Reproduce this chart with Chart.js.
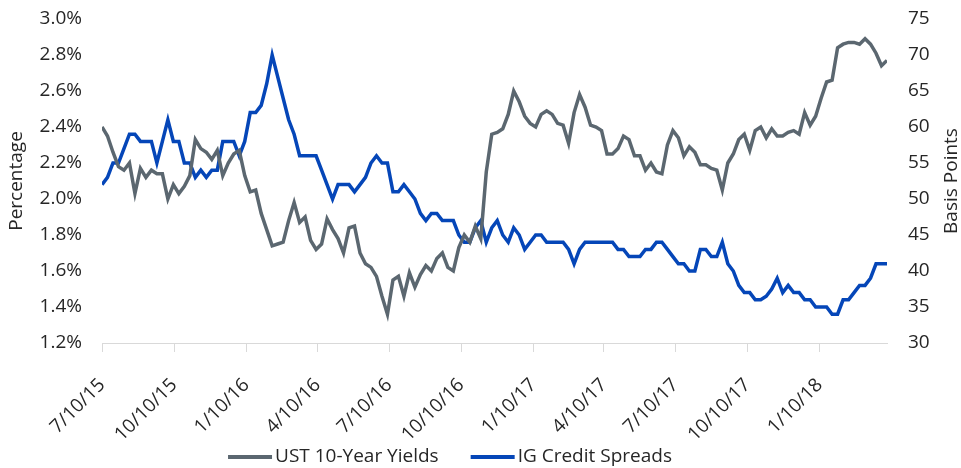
<!DOCTYPE html>
<html>
<head>
<meta charset="utf-8">
<script src="https://cdn.jsdelivr.net/npm/chart.js@4.4.1/dist/chart.umd.min.js"></script>
<style>
  html, body { margin: 0; padding: 0; background: #fff; }
  #wrap { width: 961px; height: 468px; }
</style>
</head>
<body>
<div id="wrap"><canvas id="yieldChart" width="961" height="468"></canvas></div>
<script>
// weekly observations starting 7/10/15
const startDate = '7/10/15';
const tickLabels = ['7/10/15', '10/10/15', '1/10/16', '4/10/16', '7/10/16', '10/10/16',
                    '1/10/17', '4/10/17', '7/10/17', '10/10/17', '1/10/18'];

const ustYields = [
  2.40, 2.35, 2.26, 2.18, 2.16, 2.20, 2.03, 2.17, 2.12, 2.16, 2.14, 2.14,
  2.00, 2.08, 2.03, 2.07, 2.13, 2.33, 2.28, 2.26, 2.22, 2.27, 2.13, 2.20,
  2.25, 2.27, 2.13, 2.04, 2.05, 1.92, 1.83, 1.74, 1.75, 1.76, 1.88, 1.98,
  1.87, 1.90, 1.77, 1.72, 1.75, 1.89, 1.83, 1.78, 1.70, 1.84, 1.85, 1.70,
  1.64, 1.62, 1.57, 1.46, 1.36, 1.55, 1.57, 1.46, 1.59, 1.51, 1.58, 1.63,
  1.60, 1.67, 1.70, 1.62, 1.60, 1.73, 1.80, 1.76, 1.85, 1.78, 2.15, 2.36,
  2.37, 2.39, 2.47, 2.60, 2.54, 2.46, 2.42, 2.40, 2.47, 2.49, 2.47, 2.42,
  2.41, 2.31, 2.48, 2.58, 2.51, 2.41, 2.40, 2.38, 2.25, 2.25, 2.28, 2.35,
  2.33, 2.24, 2.24, 2.16, 2.20, 2.15, 2.14, 2.30, 2.38, 2.34, 2.24, 2.29,
  2.26, 2.19, 2.19, 2.17, 2.16, 2.05, 2.20, 2.25, 2.33, 2.36, 2.27, 2.38,
  2.40, 2.34, 2.39, 2.35, 2.35, 2.37, 2.38, 2.36, 2.48, 2.41, 2.46, 2.56,
  2.65, 2.66, 2.84, 2.86, 2.87, 2.87, 2.86, 2.89, 2.86, 2.81, 2.74, 2.77
];

const igSpreads = [
  52, 53, 55, 55, 57, 59, 59, 58, 58, 58, 55, 58,
  61, 58, 58, 55, 55, 53, 54, 53, 54, 54, 58, 58,
  58, 56, 58, 62, 62, 63, 66, 70, 67, 64, 61, 59,
  56, 56, 56, 56, 54, 52, 50, 52, 52, 52, 51, 52,
  53, 55, 56, 55, 55, 51, 51, 52, 51, 50, 48, 47,
  48, 48, 47, 47, 47, 45, 44, 44, 46, 47, 44, 46,
  47, 45, 44, 46, 45, 43, 44, 45, 45, 44, 44, 44,
  44, 43, 41, 43, 44, 44, 44, 44, 44, 44, 43, 43,
  42, 42, 42, 43, 43, 44, 44, 43, 42, 41, 41, 40,
  40, 43, 43, 42, 42, 44, 41, 40, 38, 37, 37, 36,
  36, 36.5, 37.5, 39, 37, 38, 37, 37, 36, 36, 35, 35,
  35, 34, 34, 36, 36, 37, 38, 38, 39, 41, 41, 41
];

const textColor = '#262626';
const grayLine = '#5b6770';
const blueLine = '#0546b8';
const fontFamily = "'Open Sans', sans-serif";

function dayOffset(label) {
    const p = label.split('/');
    const s = startDate.split('/');
    const t = Date.UTC(2000 + Number(p[2]), Number(p[0]) - 1, Number(p[1]));
    const t0 = Date.UTC(2000 + Number(s[2]), Number(s[0]) - 1, Number(s[1]));
    return Math.round((t - t0) / 86400000);
}
const tickDays = tickLabels.map(dayOffset);

const ustPoints = ustYields.map((v, i) => ({ x: i * 7, y: v }));
const igPoints = igSpreads.map((v, i) => ({ x: i * 7, y: v }));
const lastDay = (ustYields.length - 1) * 7;

Chart.defaults.font.family = fontFamily;
Chart.defaults.font.size = 19;
Chart.defaults.color = textColor;

// right title (reads bottom to top) and the legend row
const extras = {
    id: 'extras',
    afterDraw(chart) {
        const ctx = chart.ctx;
        const area = chart.chartArea;
        ctx.save();
        ctx.font = '19px ' + fontFamily;
        ctx.fillStyle = textColor;
        ctx.textBaseline = 'middle';

        ctx.save();
        ctx.translate(952, (area.top + area.bottom) / 2);
        ctx.rotate(-Math.PI / 2);
        ctx.textAlign = 'center';
        ctx.fillText('Basis Points', 0, 0);
        ctx.restore();

        const sample = 44, gap = 3, itemGap = 32, legendY = 457;
        const items = chart.data.datasets.map(ds => ({
            ds: ds, w: sample + gap + ctx.measureText(ds.label).width
        }));
        const total = items.reduce((a, it) => a + it.w, 0) + itemGap * (items.length - 1);
        let x = 450 - total / 2;
        ctx.textAlign = 'left';
        items.forEach(it => {
            ctx.strokeStyle = it.ds.borderColor;
            ctx.lineWidth = 4;
            ctx.beginPath();
            ctx.moveTo(x, legendY);
            ctx.lineTo(x + sample, legendY);
            ctx.stroke();
            ctx.fillText(it.ds.label, x + sample + gap, legendY);
            x += it.w + itemGap;
        });
        ctx.restore();
    }
};

// invisible tick marks keep the labels away from the plot without extra top padding
const hiddenTicks = (len) => ({
    drawOnChartArea: false,
    drawTicks: true,
    tickLength: len,
    color: 'rgba(0,0,0,0)'
});

const ctx = document.getElementById('yieldChart').getContext('2d');
const yieldChart = new Chart(ctx, {
    type: 'line',
    data: {
        datasets: [{
            label: 'UST 10-Year Yields',
            data: ustPoints,
            yAxisID: 'yLeft',
            borderColor: grayLine,
            borderWidth: 3.5,
            pointRadius: 0,
            tension: 0
        }, {
            label: 'IG Credit Spreads',
            data: igPoints,
            yAxisID: 'yRight',
            borderColor: blueLine,
            borderWidth: 3.5,
            pointRadius: 0,
            tension: 0
        }]
    },
    options: {
        responsive: false,
        animation: false,
        layout: { padding: { top: 19, right: 0, bottom: 0, left: 0 } },
        plugins: {
            legend: { display: false },
            tooltip: { enabled: false }
        },
        scales: {
            x: {
                type: 'linear',
                min: 0,
                max: lastDay,
                afterBuildTicks: (scale) => {
                    scale.ticks = tickDays.map(d => ({ value: d }));
                },
                afterFit: (scale) => { scale.height = 125; },
                ticks: {
                    autoSkip: false,
                    minRotation: 45,
                    maxRotation: 45,
                    padding: 22,
                    callback: (value, index) => tickLabels[index]
                },
                grid: {
                    drawOnChartArea: false,
                    drawTicks: true,
                    tickLength: 9,
                    color: '#d9d9d9'
                },
                border: { color: '#d9d9d9', width: 1 }
            },
            yLeft: {
                type: 'linear',
                position: 'left',
                min: 1.2,
                max: 3.0,
                afterFit: (scale) => { scale.width = 102; },
                ticks: {
                    stepSize: 0.2,
                    padding: 3,
                    callback: (v) => v.toFixed(1) + '%'
                },
                grid: hiddenTicks(17),
                border: { display: false },
                title: {
                    display: true,
                    text: 'Percentage',
                    padding: { top: 5, bottom: 0 },
                    color: textColor
                }
            },
            yRight: {
                type: 'linear',
                position: 'right',
                min: 30,
                max: 75,
                afterFit: (scale) => { scale.width = 74; },
                ticks: {
                    stepSize: 5,
                    padding: 3
                },
                grid: hiddenTicks(18),
                border: { display: false }
            }
        }
    },
    plugins: [extras]
});
</script>
</body>
</html>
